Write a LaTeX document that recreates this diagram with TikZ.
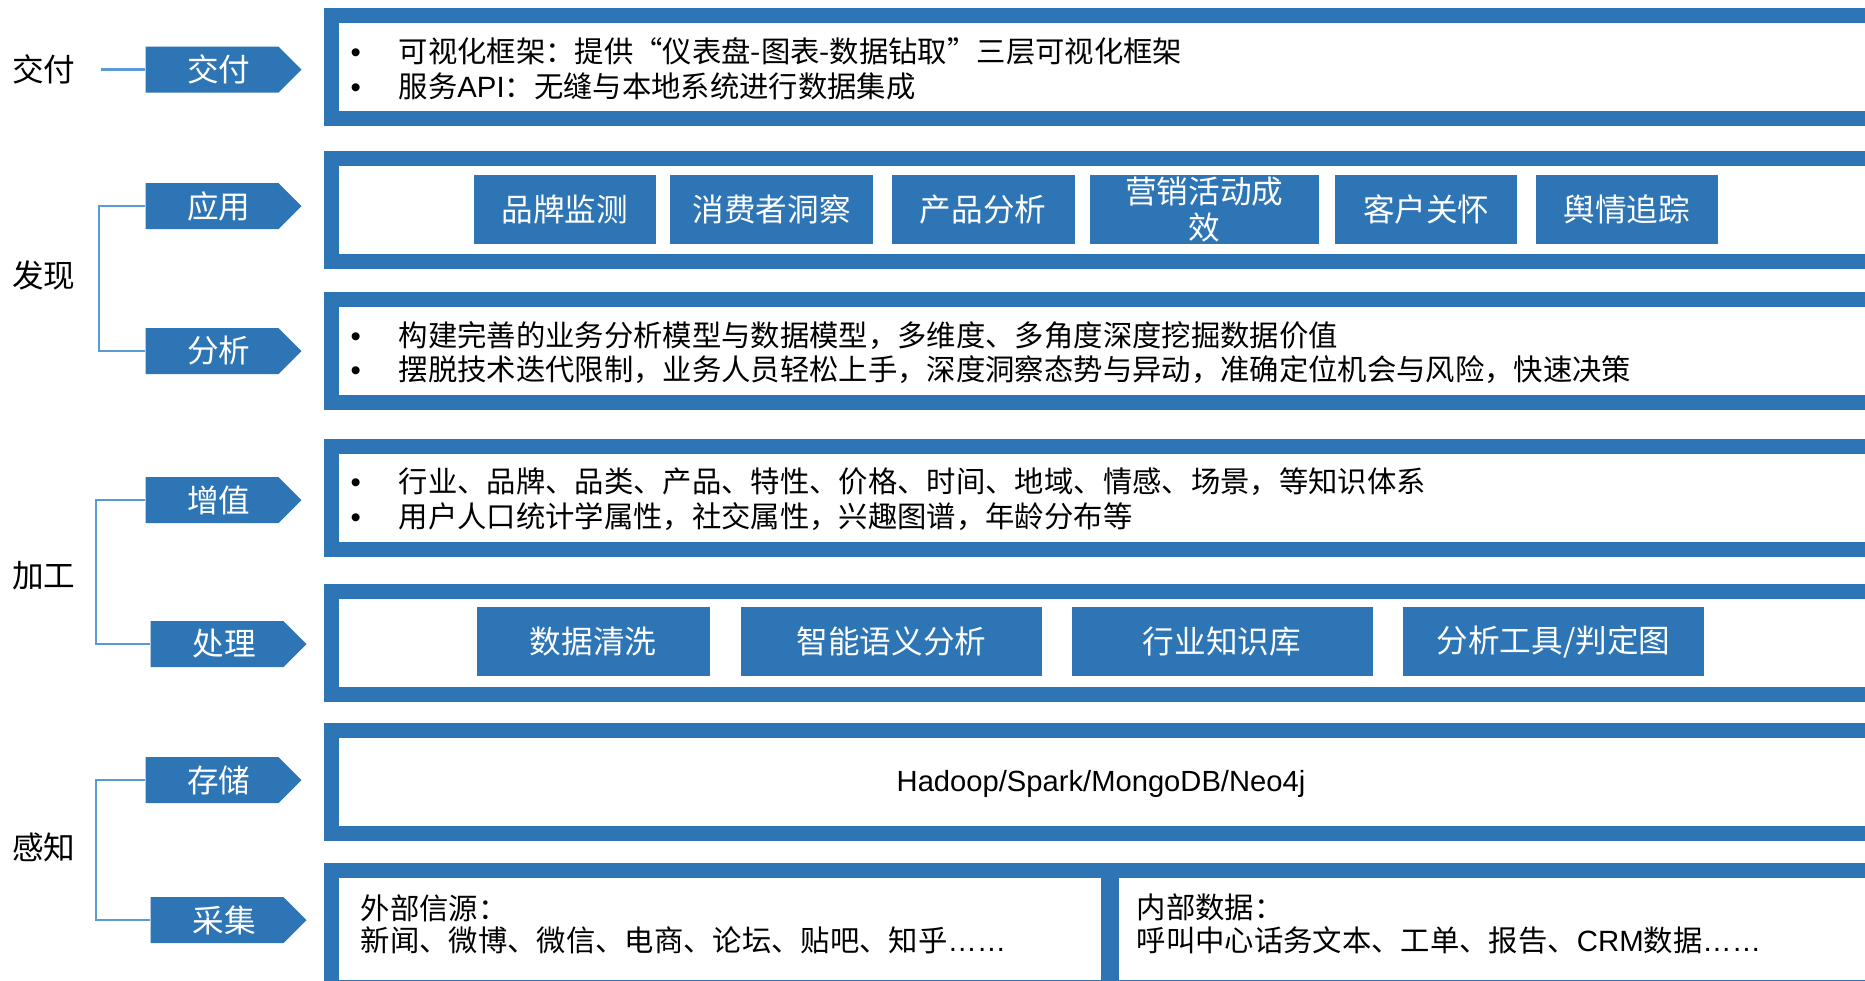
\documentclass[tikz,border=0pt]{standalone}
\usepackage{fontspec}
\setmainfont{Noto Sans CJK SC}
\newfontfamily\latin{Liberation Sans}
\usepackage{tikz}
\usetikzlibrary{shapes,positioning}
\definecolor{bluebox}{HTML}{2E75B6}
\definecolor{bluelink}{HTML}{5B9BD5}
\tikzset{
  lvl/.style={inner sep=0pt, font=\fontsize{9pt}{11pt}\selectfont},
  tag/.style={signal, signal to=east, signal pointer angle=90, fill=bluebox,
              text=white, minimum width=1.56cm, minimum height=0.46cm,
              inner sep=0pt, font=\fontsize{9pt}{11pt}\selectfont,
              execute at begin node=\hspace{0.14cm}},
  frm/.style={draw=bluebox, line width=0.15cm},
  item/.style={fill=bluebox, text=white, minimum height=0.69cm, inner sep=0pt,
               align=center, font=\fontsize{9pt}{10pt}\selectfont},
  txt/.style={anchor=west, align=left, inner sep=0pt,
              font=\fontsize{8.35pt}{9.9pt}\selectfont},
  link/.style={draw=bluelink, line width=0.025cm}
}
\newcommand{\bul}{\makebox[0.48cm][l]{\latin •}}

\begin{document}
\begin{tikzpicture}[y=-1cm]
  \useasboundingbox (0,0) rectangle (18.65,9.8);

  % frames, open on the right
  \draw[frm] (3.315,0.155) rectangle (18.9,1.185);  % deliver
  \draw[frm] (3.315,1.585) rectangle (18.9,2.615);  % apps
  \draw[frm] (3.315,2.995) rectangle (18.9,4.025);  % analysis
  \draw[frm] (3.315,4.465) rectangle (18.9,5.495);  % value add
  \draw[frm] (3.315,5.915) rectangle (18.9,6.945);  % processing
  \draw[frm] (3.315,7.305) rectangle (18.9,8.335);  % storage
  \draw[frm] (3.315,8.705) rectangle (18.9,9.875);  % collection
  \draw[frm, line width=0.18cm] (11.10,8.705) -- (11.10,9.875);

  % stage labels
  \node[lvl] (l-jiaofu) at (0.44,0.69) {交付};
  \node[lvl] (l-faxian) at (0.44,2.75) {发现};
  \node[lvl] (l-jiagong) at (0.44,5.76) {加工};
  \node[lvl] (l-ganzhi) at (0.44,8.47) {感知};

  % tags
  \node[tag] (jiaofu) at (2.12,0.695) {交付};
  \node[tag] (yingyong) at (2.12,2.06) {应用};
  \node[tag] (fenxi) at (2.12,3.51) {分析};
  \node[tag] (zengzhi) at (2.12,5.00) {增值};
  \node[tag] (chuli) at (2.17,6.44) {处理};
  \node[tag] (cunchu) at (2.12,7.80) {存储};
  \node[tag] (caiji) at (2.17,9.20) {采集};

  \draw[link] (jiaofu.west) -- ++(-0.44,0);
  \draw[link] (yingyong.west) -- ++(-0.46,0) |- (fenxi.west);
  \draw[link] (zengzhi.west) -- ++(-0.49,0) |- (chuli.west);
  \draw[link] (cunchu.west) -- ++(-0.49,0) |- (caiji.west);

  % deliver
  \node[txt] (t-jiaofu) at (3.50,0.69)
    {\bul 可视化框架：提供“仪表盘-图表-数据钻取”三层可视化框架\\
     \bul 服务{\latin API}：无缝与本地系统进行数据集成};

  % apps
  \node[item, minimum width=1.82cm, anchor=west] (pinpai) at (4.73,2.095) {品牌监测};
  \node[item, minimum width=2.03cm, right=0.13cm of pinpai] (xiaofei) {消费者洞察};
  \node[item, minimum width=1.83cm, right=0.17cm of xiaofei] (chanpin) {产品分析};
  \node[item, minimum width=2.29cm, right=0.14cm of chanpin] (yingxiao) {营销活动成\\效};
  \node[item, minimum width=1.82cm, right=0.15cm of yingxiao] (kehu) {客户关怀};
  \node[item, minimum width=1.82cm, right=0.17cm of kehu] (yuqing) {舆情追踪};

  % analysis
  \node[txt] (t-fenxi) at (3.50,3.525)
    {\bul 构建完善的业务分析模型与数据模型，多维度、多角度深度挖掘数据价值\\
     \bul 摆脱技术迭代限制，业务人员轻松上手，深度洞察态势与异动，准确定位机会与风险，快速决策};

  % value add
  \node[txt] (t-zengzhi) at (3.50,4.995)
    {\bul 行业、品牌、品类、产品、特性、价格、时间、地域、情感、场景，等知识体系\\
     \bul 用户人口统计学属性，社交属性，兴趣图谱，年龄分布等};

  % processing
  \node[item, minimum width=2.33cm, anchor=west] (qingxi) at (4.76,6.415) {数据清洗};
  \node[item, minimum width=3.01cm, right=0.30cm of qingxi] (yuyi) {智能语义分析};
  \node[item, minimum width=3.01cm, right=0.28cm of yuyi] (zhishi) {行业知识库};
  \node[item, minimum width=3.01cm, right=0.29cm of zhishi] (gongju) {分析工具/判定图};

  % storage
  \node[inner sep=0pt, font=\latin\fontsize{8.3pt}{10pt}\selectfont] (hadoop) at (11.01,7.84)
    {Hadoop/Spark/MongoDB/Neo4j};

  % collection
  \node[txt, font=\fontsize{8.35pt}{9.2pt}\selectfont] (waibu) at (3.60,9.24)
    {外部信源：\\新闻、微博、微信、电商、论坛、贴吧、知乎{\latin ……}};
  \node[txt, font=\fontsize{8.35pt}{9.2pt}\selectfont] (neibu) at (11.36,9.24)
    {内部数据：\\呼叫中心话务文本、工单、报告、{\latin CRM}数据{\latin ……}};
\end{tikzpicture}
\end{document}
